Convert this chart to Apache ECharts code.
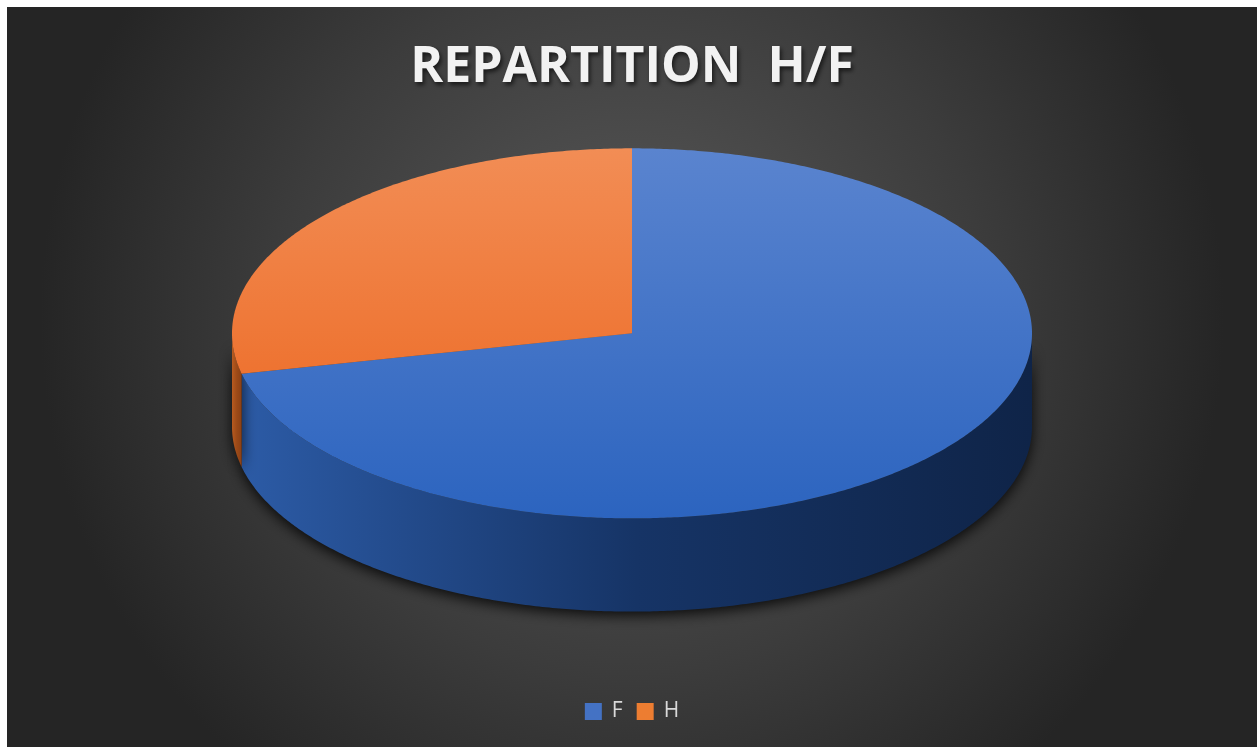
<!DOCTYPE html>
<html>
<head>
<meta charset="utf-8">
<title>Repartition H/F</title>
<script src="https://cdn.jsdelivr.net/npm/echarts@6/dist/echarts.min.js"></script>
<style>
    html, body { margin: 0; padding: 0; background: #ffffff; }
    #main { position: absolute; left: 7px; top: 7px; width: 1250px; height: 740px; }
</style>
</head>
<body>
<div id="main"></div>
<script>
    // donnees du graphique
    const categories = ['F', 'H'];
    const values = [71.5, 28.5];
    const colors = ['#4472C4', '#ED7D31'];

    // couleurs des faces (dessus / cote)
    const topColors = [['#5a84cf', '#2c64bf'], ['#f28d55', '#ee7331']];
    const sideColors = [['#2c5ba6', '#163466', '#0f2448'], ['#b85a1f', '#9c4a18', '#8a4015']];

    const total = values.reduce((a, b) => a + b, 0);
    const starts = [];
    let acc = 0;
    values.forEach(v => {
        starts.push(acc / total * Math.PI * 2);
        acc += v;
    });

    const chart = echarts.init(document.getElementById('main'));

    // geometrie de l'ellipse, calculee depuis la taille du graphique
    function geom(api) {
        const w = api.getWidth(), h = api.getHeight();
        return { cx: w * 0.5, cy: h * 0.441, rx: w * 0.32, ry: h * 0.25, depth: h * 0.126 };
    }

    function pt(g, t, dy) {
        return [g.cx + g.rx * Math.sin(t), g.cy - g.ry * Math.cos(t) + (dy || 0)];
    }

    function arc(g, a0, a1, dy) {
        const pts = [];
        const n = Math.max(2, Math.ceil(Math.abs(a1 - a0) / (Math.PI / 360)));
        for (let k = 0; k <= n; k++) {
            pts.push(pt(g, a0 + (a1 - a0) * k / n, dy));
        }
        return pts;
    }

    function renderTop(i) {
        return function (params, api) {
            const g = geom(api);
            const a0 = starts[i];
            const a1 = a0 + api.value(0) / total * Math.PI * 2;
            const points = [[g.cx, g.cy]].concat(arc(g, a0, a1));
            return {
                type: 'polygon',
                shape: { points: points },
                style: {
                    fill: new echarts.graphic.LinearGradient(0, 0, 0, 1, [
                        { offset: 0, color: topColors[i][0] },
                        { offset: 1, color: topColors[i][1] }
                    ])
                }
            };
        };
    }

    function renderSide(i) {
        return function (params, api) {
            const g = geom(api);
            const a0 = starts[i];
            const a1 = a0 + api.value(0) / total * Math.PI * 2;
            const t0 = Math.max(a0, Math.PI / 2);
            const t1 = Math.min(a1, Math.PI * 1.5);
            if (t1 <= t0) return null;
            const points = arc(g, t0, t1).concat(arc(g, t1, t0, g.depth));
            return {
                type: 'polygon',
                shape: { points: points },
                style: {
                    fill: new echarts.graphic.LinearGradient(1, 0, 0, 0, [
                        { offset: 0, color: sideColors[i][2] },
                        { offset: 0.5, color: sideColors[i][1] },
                        { offset: 1, color: sideColors[i][0] }
                    ]),
                    shadowBlur: 14,
                    shadowColor: 'rgba(0,0,0,0.85)',
                    shadowOffsetY: 4
                }
            };
        };
    }

    const series = [];
    categories.forEach((name, i) => {
        series.push({
            name: name,
            type: 'custom',
            coordinateSystem: 'none',
            z: 1,
            itemStyle: { color: colors[i] },
            renderItem: renderSide(i),
            data: [[values[i]]]
        });
    });
    categories.forEach((name, i) => {
        series.push({
            name: name,
            type: 'custom',
            coordinateSystem: 'none',
            z: 2,
            itemStyle: { color: colors[i] },
            renderItem: renderTop(i),
            data: [[values[i]]]
        });
    });

    chart.setOption({
        backgroundColor: {
            type: 'radial', x: 0.5, y: 0.42, r: 0.8,
            colorStops: [
                { offset: 0, color: '#5a5a5a' },
                { offset: 0.6, color: '#3c3c3c' },
                { offset: 1, color: '#252525' }
            ]
        },
        animation: false,
        title: {
            text: 'REPARTITION  H/F',
            left: 'center',
            top: 31,
            textStyle: {
                color: '#f2f2f2',
                fontSize: 50,
                fontWeight: 'bold',
                fontFamily: 'Open Sans',
                textShadowColor: 'rgba(0,0,0,0.6)',
                textShadowBlur: 4,
                textShadowOffsetX: 2,
                textShadowOffsetY: 3
            }
        },
        legend: {
            data: categories,
            left: 'center',
            top: 689,
            icon: 'rect',
            itemWidth: 17,
            itemHeight: 17,
            itemGap: 14,
            textStyle: { color: '#d9d9d9', fontSize: 21, fontFamily: 'Open Sans', padding: [0, 0, 0, 5] }
        },
        series: series
    });
</script>
</body>
</html>
